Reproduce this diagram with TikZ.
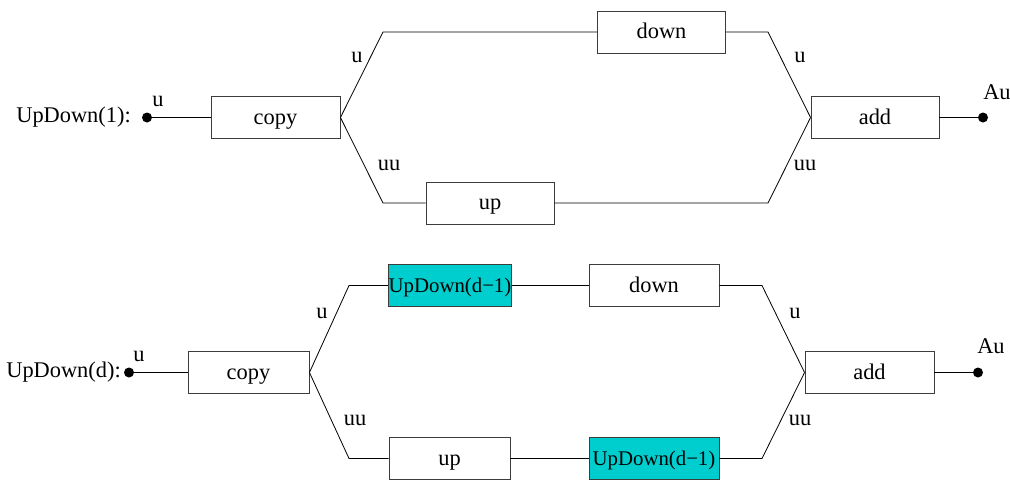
\documentclass[tikz,border=0pt]{standalone}
\usepackage{fontspec}
\setmainfont{Liberation Serif}
\definecolor{boxcyan}{RGB}{0,206,206}
\definecolor{edgegray}{RGB}{60,60,60}
\begin{document}
\begin{tikzpicture}[x=1pt,y=-1pt,
  every node/.style={font=\fontsize{22.4}{26}\selectfont, inner sep=0pt},
  blk/.style={draw=edgegray, line width=0.9pt, minimum width=#1, minimum height=42pt,
    text height=16.5pt, text depth=3.5pt},
  blk/.default=128pt,
  rec/.style={blk=122pt, fill=boxcyan, font=\fontsize{20.8}{24}\selectfont},
  wire/.style={line width=0.8pt, black},
  port/.style={circle, fill=black, minimum size=10pt},
  lbl/.style={anchor=center}]
\useasboundingbox (0,0) rectangle (1010,480);

% ---------- UpDown(1) ----------
\node[lbl, anchor=east] (name1) at (131,117.5) {UpDown(1):};
\node[port] (in1) at (147,117.5) {};
\node[lbl] (inl1) at (158,101) {u};
\node[blk=129pt] (copy1) at (275.5,117.5) {copy};
\node[blk] (down1) at (661.5,32) {down};
\node[blk] (up1) at (490,203) {up};
\node[blk] (add1) at (875,117.5) {add};
\node[port] (out1) at (983,117.5) {};
\node[lbl] (outl1) at (997,92) {Au};
\coordinate (s1a) at (383,32);
\coordinate (s1b) at (383,203);
\coordinate (j1a) at (768,32);
\coordinate (j1b) at (768,203);

\draw[wire] (in1.center) -- (copy1.west);
\draw[wire] (copy1.east) -- (s1a) -- (down1.west);
\draw[wire] (copy1.east) -- (s1b) -- (up1.west);
\draw[wire] (down1.east) -- (j1a) -- (add1.west);
\draw[wire] (up1.east) -- (j1b) -- (add1.west);
\draw[wire] (add1.east) -- (out1.center);

\node[lbl] (l1a) at (357,57) {u};
\node[lbl] (l1b) at (389,165) {uu};
\node[lbl] (l1c) at (800,57) {u};
\node[lbl] (l1d) at (805,165) {uu};

% ---------- UpDown(d) ----------
\node[lbl, anchor=east] (name2) at (121,372.5) {UpDown(d):};
\node[port] (in2) at (129,372.5) {};
\node[lbl] (inl2) at (139,356) {u};
\node[blk=121pt] (copy2) at (248.5,372.5) {copy};
\node[rec] (rec2a) at (450,285.5) {UpDown(d−1)};
\node[blk=130pt] (down2) at (654,285.5) {down};
\node[blk=121pt] (up2) at (449.5,458.5) {up};
\node[rec, minimum width=130pt] (rec2b) at (654,458.5) {UpDown(d−1)};
\node[blk=129pt] (add2) at (869.5,372.5) {add};
\node[port] (out2) at (978,372.5) {};
\node[lbl] (outl2) at (991,346) {Au};
\coordinate (s2a) at (349,285.5);
\coordinate (s2b) at (349,458.5);
\coordinate (j2a) at (762,285.5);
\coordinate (j2b) at (762,458.5);

\draw[wire] (in2.center) -- (copy2.west);
\draw[wire] (copy2.east) -- (s2a) -- (rec2a.west);
\draw[wire] (rec2a.east) -- (down2.west);
\draw[wire] (copy2.east) -- (s2b) -- (up2.west);
\draw[wire] (up2.east) -- (rec2b.west);
\draw[wire] (down2.east) -- (j2a) -- (add2.west);
\draw[wire] (rec2b.east) -- (j2b) -- (add2.west);
\draw[wire] (add2.east) -- (out2.center);

\node[lbl] (l2a) at (322,313) {u};
\node[lbl] (l2b) at (355,420) {uu};
\node[lbl] (l2c) at (795,313) {u};
\node[lbl] (l2d) at (800,420) {uu};
\end{tikzpicture}
\end{document}
